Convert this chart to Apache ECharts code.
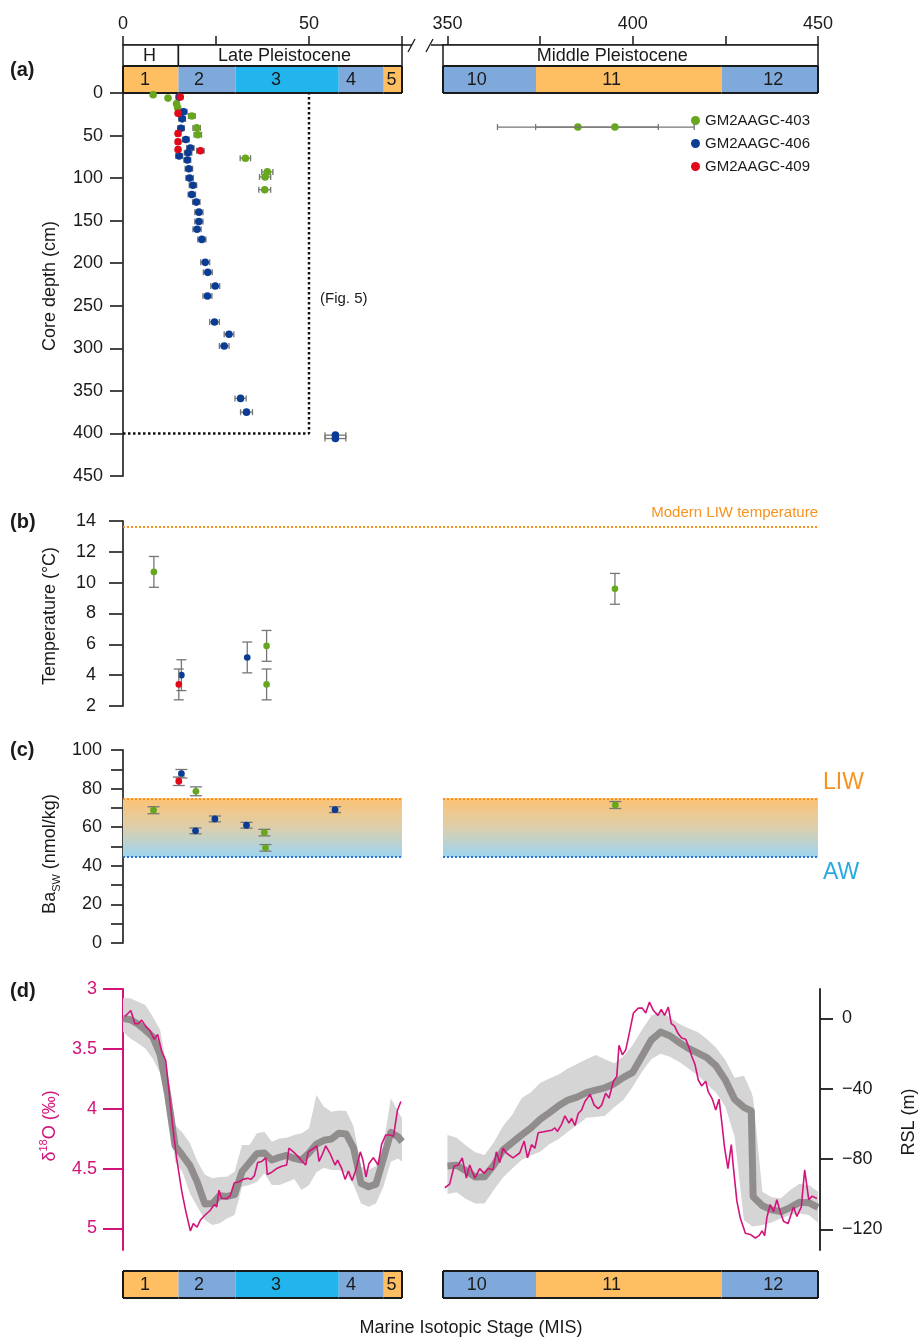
<!DOCTYPE html>
<html>
<head>
<meta charset="utf-8">
<script src="https://cdn.jsdelivr.net/npm/echarts@6.0.0/dist/echarts.min.js"></script>
<style>
html, body { margin: 0; padding: 0; background: #fff; }
#chart { width: 920px; height: 1339px; }
</style>
</head>
<body>
<div id="chart"></div>
<script>
// ---- stages and epochs (ka) ----
var misLeftBounds = [0, 14.9, 30.3, 58.0, 70.1, 75];
var misLeftNames = ['1', '2', '3', '4', '5'];
var misLeftLabelAt = [5.9, 20.4, 41.1, 61.3, 72.2];
var misRightBounds = [348.8, 373.9, 424.0, 450];
var misRightNames = ['10', '11', '12'];
var misRightLabelAt = [357.9, 394.3, 437.9];
var epochLeftBounds = [0, 14.9, 75];
var epochLeftNames = ['H', 'Late Pleistocene'];
var epochLeftLabelAt = [7.1, 43.4];
var epochRightBounds = [348.8, 450];
var epochRightNames = ['Middle Pleistocene'];
var epochRightLabelAt = [394.5];

var xTicksLeft = [0, 25, 50, 75];
var xLabelsLeft = [0, 50];
var xTicksRight = [350, 375, 400, 425, 450];
var xLabelsRight = [350, 400, 450];

// ---- (a) age vs core depth : [age ka, depth cm, age error] ----
var depthL403 = [[8.1, 2, 0.3], [12.1, 6, 0.4], [14.4, 12.6, 0.5], [14.7, 17.3, 0.5], [18.5, 27, 0.9], [19.8, 41, 1.0],
  [20.1, 49, 1.0], [32.9, 76.6, 1.4], [38.8, 92.7, 1.5], [38.2, 98.6, 1.5], [38.1, 113.6, 1.6]];
var depthR403 = [[385.2, 40, 21.7], [395.2, 40, 21.4]];
var depthL406 = [[15.1, 4.7, 0.8], [16.3, 22, 0.9], [15.9, 30.4, 0.9], [15.6, 41.4, 0.9], [16.9, 54.7, 0.9], [18.1, 64.7, 1.0],
  [17.5, 70.2, 1.0], [15.1, 74.1, 0.9], [17.3, 78.8, 0.9], [17.7, 89, 1.0], [17.9, 100, 1.0], [18.8, 108.3, 1.0],
  [18.5, 119.2, 1.0], [19.7, 128.2, 1.0], [20.4, 140, 1.1], [20.4, 151, 1.1], [19.9, 160, 1.1], [21.2, 172, 1.1],
  [22.1, 199, 1.2], [22.8, 210.7, 1.2], [24.8, 226.8, 1.2], [22.7, 238.5, 1.2], [24.6, 269, 1.3], [28.5, 283.5, 1.3],
  [27.2, 297.3, 1.3], [31.6, 358.8, 1.5], [33.2, 375, 1.6], [57.1, 402, 2.8], [57.1, 406, 2.8]];
var depthL409 = [[15.4, 4.7, 0.6], [14.8, 23.9, 0.6], [14.8, 47.5, 0.6], [14.8, 57.3, 0.6], [14.8, 66.3, 0.6], [20.8, 67.8, 1.0]];
var fig5Box = [[0, 400], [50, 400], [50, 0]];

// ---- (b) temperature : [age, degC, error] ----
var tempL403 = [[8.3, 10.7, 1.0], [38.6, 5.9, 1.0], [38.6, 3.4, 1.0]];
var tempR403 = [[395.2, 9.6, 1.0]];
var tempL406 = [[15.7, 4.0, 1.0], [33.4, 5.15, 1.0]];
var tempL409 = [[15.0, 3.4, 1.0]];
var modernLIWTemp = 13.6;

// ---- (c) Ba seawater : [age, nmol/kg, error] ----
var baL403 = [[8.2, 68.8, 1.8], [19.6, 78.6, 2.3], [38.0, 57.2, 1.7], [38.3, 49.3, 1.7]];
var baR403 = [[395.3, 71.5, 1.8]];
var baL406 = [[15.7, 87.7, 2.2], [19.5, 58.1, 1.5], [24.7, 64.3, 1.5], [33.2, 61.0, 1.5], [57.0, 69.1, 1.5]];
var baL409 = [[15.0, 83.8, 2.2]];
var baLIW = 75;
var baAW = 44.5;

// ---- (d) benthic d18O : [age, permil] ----
var d18oLeft = [[0.5, 3.23], [2.1, 3.18], [3.2, 3.29], [4.1, 3.29], [5.0, 3.26], [6.1, 3.31], [7.3, 3.35], [8.4, 3.42], [9.3, 3.38],
  [10.4, 3.52], [11.5, 3.60], [12.4, 3.86], [13.3, 4.13], [14.4, 4.41], [15.8, 4.69], [16.9, 4.86], [18.1, 5.02], [18.9, 4.96],
  [19.9, 4.99], [20.8, 4.93], [22.0, 4.89], [23.4, 4.85], [24.1, 4.82], [24.7, 4.80], [25.2, 4.82], [25.8, 4.68], [26.5, 4.75],
  [27.9, 4.75], [28.8, 4.73], [29.9, 4.62], [31.2, 4.61], [32.3, 4.59], [33.5, 4.58], [34.4, 4.59], [35.3, 4.56], [36.2, 4.45],
  [37.3, 4.44], [38.4, 4.41], [38.8, 4.55], [40.0, 4.53], [41.3, 4.50], [42.7, 4.48], [44.0, 4.47], [44.6, 4.33], [45.8, 4.36],
  [47.1, 4.40], [48.2, 4.44], [49.1, 4.47], [49.8, 4.36], [51.3, 4.33], [52.1, 4.31], [52.7, 4.44], [53.6, 4.38], [54.5, 4.31],
  [55.6, 4.37], [57.0, 4.47], [57.7, 4.43], [58.8, 4.50], [59.7, 4.59], [60.6, 4.52], [61.6, 4.60], [62.5, 4.52], [63.8, 4.36],
  [64.5, 4.43], [65.3, 4.57], [66.1, 4.46], [67.3, 4.41], [68.6, 4.47], [69.5, 4.30], [70.6, 4.22], [71.8, 4.22], [72.7, 4.23],
  [73.3, 4.11], [73.8, 4.01], [74.7, 3.94]];
var d18oRight = [[349.3, 4.66], [350.6, 4.63], [351.8, 4.48], [352.9, 4.47], [354.0, 4.41], [355.1, 4.58], [356.0, 4.47],
  [357.4, 4.58], [358.7, 4.50], [359.9, 4.54], [361.0, 4.50], [362.3, 4.51], [363.2, 4.36], [364.1, 4.45], [365.0, 4.33],
  [365.9, 4.37], [367.7, 4.41], [369.5, 4.37], [370.7, 4.27], [371.6, 4.41], [372.7, 4.30], [373.6, 4.33], [374.5, 4.20],
  [376.3, 4.19], [378.1, 4.18], [379.0, 4.16], [379.7, 4.19], [380.8, 4.13], [381.7, 4.06], [382.8, 4.12], [383.5, 4.08],
  [384.4, 4.14], [385.3, 4.04], [386.2, 4.01], [387.1, 3.94], [388.5, 3.88], [389.6, 3.97], [390.7, 4.00], [391.6, 3.97],
  [392.7, 3.87], [393.6, 3.91], [394.8, 3.77], [395.7, 3.73], [396.3, 3.47], [397.2, 3.55], [398.1, 3.51], [398.8, 3.41],
  [400.2, 3.20], [401.5, 3.16], [402.6, 3.16], [403.5, 3.20], [404.5, 3.11], [405.6, 3.18], [406.8, 3.22], [407.7, 3.17],
  [408.6, 3.22], [409.6, 3.15], [410.4, 3.29], [411.3, 3.31], [412.2, 3.37], [413.2, 3.41], [414.3, 3.42], [415.2, 3.49],
  [415.9, 3.56], [416.8, 3.63], [417.7, 3.76], [418.6, 3.81], [419.7, 3.77], [420.4, 3.86], [421.5, 3.92], [422.4, 4.01],
  [423.3, 3.92], [424.1, 4.13], [424.8, 4.33], [425.7, 4.50], [426.6, 4.30], [427.2, 4.50], [428.1, 4.77], [429.0, 4.91],
  [430.4, 5.04], [431.7, 5.05], [433.1, 5.08], [434.1, 5.06], [434.9, 5.02], [435.6, 5.06], [436.2, 4.91], [437.1, 4.80],
  [438.0, 4.86], [438.9, 4.76], [439.8, 4.86], [440.7, 4.94], [441.9, 4.96], [443.4, 4.82], [444.3, 4.90], [445.5, 4.82],
  [446.4, 4.51], [447.5, 4.76], [448.4, 4.73], [449.7, 4.75]];

// ---- (d) relative sea level (m) ----
var rslLeftAge = [0, 2, 4, 6, 8, 10, 12, 14, 16, 18, 20, 22, 24, 26, 28, 30, 32, 34, 36, 38, 40, 42, 44, 46, 48, 50, 52, 54, 56, 58,
  60, 62, 64, 66, 68, 70, 72, 74, 75];
var rslLeftMid = [0.0, -0.8, -3.2, -6.7, -10.5, -20.7, -43.4, -72.5, -78.0, -83.8, -93.3, -105.6, -105.4, -100.9, -101.3, -100.3,
  -87.2, -82.1, -77.0, -76.6, -80.6, -79.1, -78.0, -79.7, -80.6, -76.6, -71.5, -69.4, -68.7, -65.4, -65.8, -73.9, -93.9, -95.8,
  -94.3, -79.7, -64.9, -67.5, -70.2];
var rslLeftHi = [11.4, 11.4, 9.5, 7.6, 0.9, -6.7, -30.4, -60.7, -65.1, -71.1, -81.5, -88.8, -91.0, -90.3, -90.1, -87.2, -72.1,
  -72.1, -65.4, -64.5, -70.2, -68.3, -67.9, -66.4, -65.4, -62.6, -43.6, -50.3, -53.1, -52.4, -52.7, -61.6, -84.4, -86.3, -84.0,
  -72.1, -45.5, -53.1, -56.9];
var rslLeftLo = [-7.6, -11.4, -14.2, -17.1, -22.8, -31.3, -45.5, -81.6, -87.6, -99.6, -107.2, -114.7, -117.6, -116.6, -113.8,
  -111.9, -95.8, -94.8, -92.9, -88.2, -94.8, -94.8, -93.3, -91.4, -97.7, -94.8, -87.6, -85.0, -86.3, -86.3, -88.2, -94.8, -105.3,
  -107.2, -105.3, -95.8, -81.6, -79.7, -81.6];
var rslRightAge = [350, 352.5, 355, 357.5, 360, 362.5, 365, 367.5, 370, 372.5, 375, 377.5, 380, 382.5, 385, 387.5, 390, 392.5,
  395, 397.5, 400, 402.5, 405, 407.5, 410, 412.5, 415, 417.5, 420, 422.5, 425, 427.5, 430, 432, 432.5, 435, 437.5, 440, 442.5,
  445, 447.5, 450];
var rslRightMid = [-84.0, -83.6, -86.7, -90.3, -90.1, -83.5, -74.9, -70.6, -66.4, -62.4, -57.5, -53.7, -49.7, -46.5, -44.8, -42.3,
  -40.8, -39.5, -37.2, -33.6, -30.7, -21.6, -12.3, -7.8, -9.9, -13.7, -17.1, -19.7, -22.4, -27.1, -35.1, -46.1, -50.6, -52.7,
  -101.5, -106.6, -109.0, -110.0, -107.7, -104.7, -104.9, -107.5];
var rslRightHi = [-66.4, -67.9, -72.4, -76.2, -77.8, -70.7, -61.3, -54.8, -45.5, -42.1, -36.8, -34.2, -31.9, -28.5, -26.0, -23.3,
  -20.9, -23.2, -25.6, -21.6, -15.2, -6.5, 1.5, 3.8, 0.5, -3.1, -5.7, -7.8, -11.8, -16.7, -23.7, -33.8, -32.6, -41.7, -45.5, -98.6,
  -101.8, -102.4, -97.7, -94.1, -94.8, -98.6];
var rslRightLo = [-100.0, -99.0, -102.8, -105.4, -105.3, -97.7, -90.5, -85.5, -80.6, -78.1, -75.9, -71.7, -68.7, -64.5, -60.7,
  -56.5, -56.1, -55.4, -50.6, -46.5, -38.9, -30.4, -23.2, -20.1, -21.8, -24.7, -28.5, -32.3, -37.4, -42.3, -50.3, -67.3, -114.7,
  -118.0, -118.5, -117.6, -116.1, -113.8, -111.9, -111.0, -111.9, -116.1];

var d18oTicks = [3, 3.5, 4, 4.5, 5];
var rslTicks = [-120, -80, -40, 0];

// ---- styles ----
var FONT = "'Liberation Sans', Arial, Helvetica, sans-serif";
var INK = '#1a1a1a';
var PINK = '#d3137a';
var ORANGE = '#f7931e';
var CORE_COLOR = { 'GM2AAGC-403': '#67a71d', 'GM2AAGC-406': '#0b3c94', 'GM2AAGC-409': '#e2081a' };
var MIS_FILL = { '1': '#fdbf61', '2': '#80a9db', '3': '#22b4ec', '4': '#80a9db', '5': '#fdbf61',
  '10': '#80a9db', '11': '#fdbf61', '12': '#80a9db' };

var SIDE = { L: { left: 123, width: 279, min: 0, max: 75 }, R: { left: 443, width: 375, min: 348.8, max: 450 } };
var ROW = {
  epoch: { top: 45, height: 21 }, mis: { top: 66, height: 27 }, a: { top: 93, height: 383 },
  b: { top: 521, height: 185 }, c: { top: 750, height: 193 }, d: { top: 989, height: 261 },
  bot: { top: 1271, height: 27 }
};

var grid = [], xAxis = [], yAxis = [], series = [];

function addGrid(side, row, xa, yas) {
  var s = SIDE[side], r = ROW[row];
  grid.push({ left: s.left, width: s.width, top: r.top, height: r.height });
  var gi = grid.length - 1;
  xAxis.push(Object.assign({ type: 'value', gridIndex: gi, min: s.min, max: s.max, show: false }, xa || {}));
  var yi = [];
  (yas || [{ show: false, min: 0, max: 1 }]).forEach(function (y) {
    yAxis.push(Object.assign({ type: 'value', gridIndex: gi, splitLine: { show: false } }, y));
    yi.push(yAxis.length - 1);
  });
  return { x: xAxis.length - 1, y: yi };
}

function line(color, w) { return { show: true, onZero: false, lineStyle: { color: color, width: w } }; }
function ticks(color, w, len, extra) {
  return Object.assign({ show: true, length: len, lineStyle: { color: color, width: w } }, extra || {});
}
function labels(color, margin, extra) {
  return Object.assign({ show: true, color: color, fontSize: 18, fontFamily: FONT, margin: margin }, extra || {});
}

// strip of stage / epoch cells
function stripItem(bounds, names, labelAt, boxed) {
  return function (params, api) {
    var i = params.dataIndex;
    var cs = params.coordSys;
    var x0 = api.coord([api.value(0), 0])[0];
    var x1 = api.coord([api.value(1), 0])[0];
    var tx = api.coord([labelAt[i], 0])[0];
    var kids = [];
    if (boxed) {
      kids.push({ type: 'rect', shape: { x: x0, y: cs.y, width: x1 - x0, height: cs.height },
        style: { fill: '#fff', stroke: INK, lineWidth: 1.5 } });
    } else {
      var st = { stroke: INK, lineWidth: 2 };
      kids.push({ type: 'rect', shape: { x: x0, y: cs.y, width: x1 - x0, height: cs.height },
        style: { fill: MIS_FILL[names[i]] } });
      kids.push({ type: 'line', shape: { x1: x0, y1: cs.y, x2: x1, y2: cs.y }, style: st });
      kids.push({ type: 'line', shape: { x1: x0, y1: cs.y + cs.height, x2: x1, y2: cs.y + cs.height }, style: st });
      if (i === 0) kids.push({ type: 'line', shape: { x1: x0, y1: cs.y, x2: x0, y2: cs.y + cs.height }, style: st });
      if (i === names.length - 1) kids.push({ type: 'line', shape: { x1: x1, y1: cs.y, x2: x1, y2: cs.y + cs.height }, style: st });
    }
    kids.push({ type: 'text', x: tx, y: cs.y + cs.height / 2 + 1,
      style: { text: names[i], fill: INK, fontSize: 18, fontFamily: FONT, align: 'center', verticalAlign: 'middle' } });
    return { type: 'group', children: kids };
  };
}
function addStrip(ax, bounds, names, labelAt, boxed) {
  series.push({
    type: 'custom', xAxisIndex: ax.x, yAxisIndex: ax.y[0], silent: true, z: 3,
    renderItem: stripItem(bounds, names, labelAt, boxed),
    encode: { x: [0, 1], y: 2 },
    data: names.map(function (n, i) { return [bounds[i], bounds[i + 1], 0]; })
  });
}

// point with error bar
function errItem(horizontal, cap, r) {
  return function (params, api) {
    var x = api.value(0), y = api.value(1), e = api.value(2);
    var p = api.coord([x, y]);
    var a = horizontal ? api.coord([x - e, y]) : api.coord([x, y - e]);
    var b = horizontal ? api.coord([x + e, y]) : api.coord([x, y + e]);
    var st = { stroke: '#767676', lineWidth: 1.3 };
    var kids = [{ type: 'line', shape: { x1: a[0], y1: a[1], x2: b[0], y2: b[1] }, style: st }];
    [a, b].forEach(function (q) {
      kids.push(horizontal
        ? { type: 'line', shape: { x1: q[0], y1: q[1] - cap, x2: q[0], y2: q[1] + cap }, style: st }
        : { type: 'line', shape: { x1: q[0] - cap, y1: q[1], x2: q[0] + cap, y2: q[1] }, style: st });
    });
    kids.push({ type: 'circle', shape: { cx: p[0], cy: p[1], r: r }, style: { fill: api.visual('color') } });
    return { type: 'group', children: kids };
  };
}
function addPoints(ax, name, data, horizontal, cap, r) {
  series.push({
    type: 'custom', name: name, xAxisIndex: ax.x, yAxisIndex: ax.y[0], z: 5,
    itemStyle: { color: CORE_COLOR[name] },
    renderItem: errItem(horizontal, cap, r),
    encode: { x: 0, y: 1 },
    data: data
  });
}

// light grey envelope
function bandItem(ages, lo, hi) {
  return function (params, api) {
    if (params.dataIndex !== 0) return null;
    var pts = [];
    for (var i = 0; i < ages.length; i++) pts.push(api.coord([ages[i], hi[i]]));
    for (var j = ages.length - 1; j >= 0; j--) pts.push(api.coord([ages[j], lo[j]]));
    return { type: 'polygon', shape: { points: pts }, style: { fill: '#d5d5d5' } };
  };
}
function addRsl(ax, ages, lo, mid, hi) {
  series.push({
    type: 'custom', xAxisIndex: ax.x, yAxisIndex: ax.y[1], silent: true, z: 1,
    renderItem: bandItem(ages, lo, hi), encode: { x: 0, y: [1, 2] },
    data: ages.map(function (a, i) { return [a, lo[i], hi[i]]; })
  });
  series.push({
    type: 'line', xAxisIndex: ax.x, yAxisIndex: ax.y[1], silent: true, z: 2, showSymbol: false, symbol: 'none',
    lineStyle: { color: '#918d8d', width: 7, join: 'round', cap: 'butt' },
    data: ages.map(function (a, i) { return [a, mid[i]]; })
  });
}
function addD18o(ax, data) {
  series.push({
    type: 'line', xAxisIndex: ax.x, yAxisIndex: ax.y[0], silent: true, z: 3, showSymbol: false, symbol: 'none',
    lineStyle: { color: PINK, width: 1.6 }, data: data
  });
}

// ---- top strips with age axis ----
var epochL = addGrid('L', 'epoch', {
  show: true, position: 'top', axisLine: line(INK, 1.5),
  axisTick: ticks(INK, 1.5, 9, { customValues: xTicksLeft }),
  axisLabel: labels(INK, 12, { customValues: xLabelsLeft }), splitLine: { show: false }
});
var epochR = addGrid('R', 'epoch', {
  show: true, position: 'top', axisLine: line(INK, 1.5),
  axisTick: ticks(INK, 1.5, 9, { customValues: xTicksRight }),
  axisLabel: labels(INK, 12, { customValues: xLabelsRight }), splitLine: { show: false }
});
addStrip(epochL, epochLeftBounds, epochLeftNames, epochLeftLabelAt, true);
addStrip(epochR, epochRightBounds, epochRightNames, epochRightLabelAt, true);
var misTopL = addGrid('L', 'mis');
var misTopR = addGrid('R', 'mis');
addStrip(misTopL, misLeftBounds, misLeftNames, misLeftLabelAt, false);
addStrip(misTopR, misRightBounds, misRightNames, misRightLabelAt, false);

// ---- (a) ----
var aL = addGrid('L', 'a', null, [{
  inverse: true, min: 0, max: 450, interval: 50, axisLine: line('#333', 1.8),
  axisTick: ticks('#333', 1.8, 13), axisLabel: labels(INK, 20)
}]);
var aR = addGrid('R', 'a', null, [{ show: false, inverse: true, min: 0, max: 450 }]);
series.push({
  type: 'line', xAxisIndex: aL.x, yAxisIndex: aL.y[0], silent: true, symbol: 'none', z: 2,
  lineStyle: { color: '#111', width: 2.5, type: [2.5, 2.5] }, data: fig5Box
});
addPoints(aL, 'GM2AAGC-403', depthL403, true, 3, 3.8);
addPoints(aR, 'GM2AAGC-403', depthR403, true, 3, 3.8);
addPoints(aL, 'GM2AAGC-406', depthL406, true, 3, 3.8);
addPoints(aL, 'GM2AAGC-409', depthL409, true, 3, 3.8);

// ---- (b) ----
var bL = addGrid('L', 'b', null, [{
  min: 2, max: 14, interval: 2, axisLine: line('#333', 1.8),
  axisTick: ticks('#333', 1.8, 14), axisLabel: labels(INK, 27)
}]);
var bR = addGrid('R', 'b', null, [{ show: false, min: 2, max: 14 }]);
grid.push({ left: 123, width: 695, top: ROW.b.top, height: ROW.b.height });
xAxis.push({ type: 'value', gridIndex: grid.length - 1, min: 0, max: 1, show: false });
yAxis.push({ type: 'value', gridIndex: grid.length - 1, min: 2, max: 14, show: false });
series.push({
  type: 'line', xAxisIndex: xAxis.length - 1, yAxisIndex: yAxis.length - 1, silent: true, data: [],
  markLine: {
    silent: true, symbol: 'none', label: { show: false },
    lineStyle: { color: ORANGE, width: 2, type: [2, 2] }, data: [{ yAxis: modernLIWTemp }]
  }
});
addPoints(bL, 'GM2AAGC-403', tempL403, false, 5, 3.3);
addPoints(bR, 'GM2AAGC-403', tempR403, false, 5, 3.3);
addPoints(bL, 'GM2AAGC-406', tempL406, false, 5, 3.3);
addPoints(bL, 'GM2AAGC-409', tempL409, false, 5, 3.3);

// ---- (c) ----
var cL = addGrid('L', 'c', null, [{
  min: 0, max: 100, interval: 10, axisLine: line('#333', 1.8),
  axisTick: ticks('#333', 1.8, 12),
  axisLabel: labels(INK, 21, { formatter: function (v) { return v % 20 === 0 ? String(v) : ''; } })
}]);
var cR = addGrid('R', 'c', null, [{ show: false, min: 0, max: 100 }]);
[cL, cR].forEach(function (ax) {
  series.push({
    type: 'line', xAxisIndex: ax.x, yAxisIndex: ax.y[0], silent: true, data: [], z: 1,
    markArea: {
      silent: true,
      itemStyle: {
        color: { type: 'linear', x: 0, y: 0, x2: 0, y2: 1,
          colorStops: [{ offset: 0, color: '#fdc274' }, { offset: 0.5, color: '#dccfac' }, { offset: 1, color: '#9cd5f2' }] }
      },
      data: [[{ yAxis: baLIW }, { yAxis: baAW }]]
    },
    markLine: {
      silent: true, symbol: 'none', label: { show: false },
      data: [
        { yAxis: baLIW, lineStyle: { color: ORANGE, width: 2, type: [2, 2] } },
        { yAxis: baAW, lineStyle: { color: '#2a72d5', width: 2, type: [2, 2] } }
      ]
    }
  });
});
addPoints(cL, 'GM2AAGC-403', baL403, false, 6, 3.4);
addPoints(cR, 'GM2AAGC-403', baR403, false, 6, 3.4);
addPoints(cL, 'GM2AAGC-406', baL406, false, 6, 3.4);
addPoints(cL, 'GM2AAGC-409', baL409, false, 6, 3.4);

// ---- (d) ----
var dL = addGrid('L', 'd', null, [
  { position: 'left', inverse: true, min: 3, max: 5.18, axisLine: line(PINK, 2),
    axisTick: ticks(PINK, 2, 20, { customValues: d18oTicks }),
    axisLabel: labels(PINK, 26, { customValues: d18oTicks }) },
  { show: false, min: -131.8, max: 16.7 }
]);
var dR = addGrid('R', 'd', null, [
  { show: false, inverse: true, min: 3, max: 5.18 },
  { position: 'right', offset: 2, min: -131.8, max: 16.7, axisLine: line(INK, 1.8),
    axisTick: ticks(INK, 1.8, 13, { customValues: rslTicks }),
    axisLabel: labels(INK, 22, { customValues: rslTicks, formatter: function (v) { return String(v).replace('-', '\u2212'); } }) }
]);
addRsl(dL, rslLeftAge, rslLeftLo, rslLeftMid, rslLeftHi);
addRsl(dR, rslRightAge, rslRightLo, rslRightMid, rslRightHi);
addD18o(dL, d18oLeft);
addD18o(dR, d18oRight);

// ---- bottom stage strip ----
var botL = addGrid('L', 'bot');
var botR = addGrid('R', 'bot');
addStrip(botL, misLeftBounds, misLeftNames, misLeftLabelAt, false);
addStrip(botR, misRightBounds, misRightNames, misRightLabelAt, false);

// ---- text ----
function txt(x, y, text, o) {
  return Object.assign({ type: 'text', x: x, y: y, z: 10, silent: true,
    style: Object.assign({ text: text, fill: INK, fontSize: 18, fontFamily: FONT, align: 'center', verticalAlign: 'middle' }, o && o.style) },
    o && o.el);
}
var vert = { el: { rotation: Math.PI / 2 } };
var graphic = [
  txt(10, 70, '(a)', { style: { align: 'left', fontWeight: 'bold', fontSize: 20 } }),
  txt(10, 522, '(b)', { style: { align: 'left', fontWeight: 'bold', fontSize: 20 } }),
  txt(10, 750, '(c)', { style: { align: 'left', fontWeight: 'bold', fontSize: 20 } }),
  txt(10, 991, '(d)', { style: { align: 'left', fontWeight: 'bold', fontSize: 20 } }),
  txt(50, 286, 'Core depth (cm)', vert),
  txt(50, 616, 'Temperature (\u00b0C)', vert),
  txt(50, 854, '{b|Ba}{s|SW}{b| (nmol/kg)}', { el: { rotation: Math.PI / 2 }, style: {
    rich: { b: { fontSize: 18, lineHeight: 24, fontFamily: FONT, fill: INK },
      s: { fontSize: 11, lineHeight: 11, verticalAlign: 'bottom', fontFamily: FONT, fill: INK } } } }),
  txt(50, 1126, '{b|\u03b4}{p|18}{b|O (\u2030)}', { el: { rotation: Math.PI / 2 }, style: {
    rich: { b: { fontSize: 18, lineHeight: 24, fontFamily: FONT, fill: PINK },
      p: { fontSize: 11, lineHeight: 11, verticalAlign: 'top', fontFamily: FONT, fill: PINK } } } }),
  txt(909, 1122, 'RSL (m)', vert),
  txt(818, 513, 'Modern LIW temperature', { style: { align: 'right', fontSize: 15, fill: ORANGE } }),
  txt(823, 783, 'LIW', { style: { align: 'left', fontSize: 23, fill: ORANGE } }),
  txt(823, 873, 'AW', { style: { align: 'left', fontSize: 23, fill: '#29abe2' } }),
  txt(320, 299, '(Fig. 5)', { style: { align: 'left', fontSize: 15 } }),
  txt(471, 1328, 'Marine Isotopic Stage (MIS)'),
  // axis break marks
  { type: 'line', silent: true, shape: { x1: 402, y1: 45, x2: 412, y2: 45 }, style: { stroke: INK, lineWidth: 1.5 } },
  { type: 'line', silent: true, shape: { x1: 408, y1: 52, x2: 415, y2: 39 }, style: { stroke: INK, lineWidth: 1.3 } },
  { type: 'line', silent: true, shape: { x1: 431, y1: 45, x2: 443, y2: 45 }, style: { stroke: INK, lineWidth: 1.5 } },
  { type: 'line', silent: true, shape: { x1: 426, y1: 52, x2: 433, y2: 39 }, style: { stroke: INK, lineWidth: 1.3 } }
];

var chart = echarts.init(document.getElementById('chart'), null, { renderer: 'canvas' });
chart.setOption({
  animation: false,
  backgroundColor: '#fff',
  textStyle: { fontFamily: FONT },
  legend: {
    orient: 'vertical', left: 686, top: 108, itemWidth: 9, itemHeight: 9, itemGap: 8, selectedMode: false,
    textStyle: { fontSize: 15, color: INK, fontFamily: FONT, lineHeight: 15 },
    data: ['GM2AAGC-403', 'GM2AAGC-406', 'GM2AAGC-409'].map(function (n) { return { name: n, icon: 'circle' }; })
  },
  grid: grid,
  xAxis: xAxis,
  yAxis: yAxis,
  series: series,
  graphic: graphic
});
</script>
</body>
</html>
